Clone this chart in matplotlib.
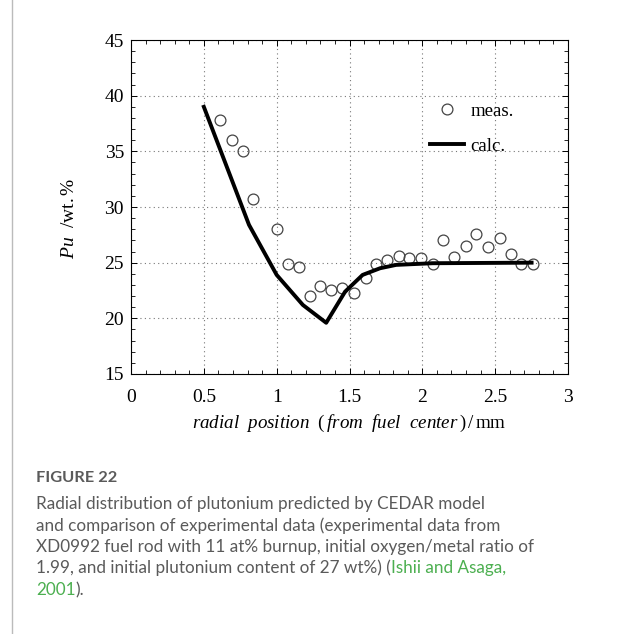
import matplotlib
matplotlib.use("Agg")
import matplotlib.pyplot as plt
from matplotlib.ticker import MultipleLocator

plt.rcParams['font.family'] = 'Liberation Serif'
plt.rcParams['mathtext.fontset'] = 'custom'
plt.rcParams['mathtext.rm'] = 'Liberation Serif'
plt.rcParams['mathtext.it'] = 'Liberation Serif:italic'

# measured Pu content (wt.%) vs radial position (mm)
meas_r = [0.61, 0.69, 0.77, 0.84, 1.00, 1.08, 1.15, 1.23, 1.30, 1.37, 1.45, 1.53,
          1.61, 1.68, 1.76, 1.84, 1.91, 1.99, 2.07, 2.14, 2.22, 2.30, 2.37, 2.45,
          2.53, 2.61, 2.68, 2.76]
meas_pu = [37.8, 36.0, 35.0, 30.7, 28.0, 24.9, 24.6, 22.0, 22.9, 22.5, 22.7, 22.3,
           23.6, 24.9, 25.2, 25.6, 25.4, 25.4, 24.9, 27.0, 25.5, 26.5, 27.6, 26.4,
           27.2, 25.8, 24.9, 24.9]

# CEDAR calculation
calc_r = [0.50, 0.81, 1.00, 1.18, 1.34, 1.47, 1.59, 1.71, 1.82, 2.07, 2.75]
calc_pu = [39.0, 28.4, 23.9, 21.2, 19.6, 22.4, 23.9, 24.5, 24.8, 24.95, 25.0]

fig = plt.figure(figsize=(6.22, 6.34), dpi=100)
ax = fig.add_axes([0.2106, 0.4101, 0.7026, 0.5268])

ax.plot(meas_r, meas_pu, 'o', markersize=7.8, markerfacecolor='none',
        markeredgecolor='#444444', markeredgewidth=0.9, label='meas.')
ax.plot(calc_r, calc_pu, '-', color='black', linewidth=2.8, label='calc.')

ax.set_xlim(0, 3)
ax.set_ylim(15, 45)
ax.xaxis.set_major_locator(MultipleLocator(0.5))
ax.xaxis.set_minor_locator(MultipleLocator(0.1))
ax.yaxis.set_major_locator(MultipleLocator(5))
ax.yaxis.set_minor_locator(MultipleLocator(1))
ax.set_xticks([0, 0.5, 1, 1.5, 2, 2.5, 3])
ax.set_xticklabels(['0', '0.5', '1', '1.5', '2', '2.5', '3'])

ax.tick_params(which='both', direction='in', top=True, right=True, labelsize=14)
ax.tick_params(which='major', length=4, width=0.7)
ax.tick_params(which='minor', length=3, width=0.6)
ax.tick_params(axis='x', which='major', pad=11)
ax.tick_params(axis='y', which='major', pad=5)
ax.grid(True, which='major', linestyle=(0, (1, 3)), color='#777777', linewidth=0.8)
for s in ax.spines.values():
    s.set_linewidth(0.8)

ax.set_xlabel(r'$\mathit{radial\ \ position\ \ (\,from\ \ fuel\ \ center\,)\,/\,}\mathrm{mm}$',
              fontsize=13.7)
ax.xaxis.set_label_coords(0.5, -0.117)
ax.set_ylabel(r'$\mathit{Pu}\ \ \mathrm{/wt.\%}$', fontsize=14)
ax.yaxis.set_label_coords(-0.122, 0.467)

leg = ax.legend(loc='upper left', bbox_to_anchor=(0.684, 0.812), frameon=False,
                fontsize=13.5, handlelength=1.8, handletextpad=0.35,
                labelspacing=0.95, borderpad=0, borderaxespad=0)

# caption block
gray = '#5a5a5a'
green = '#4caf50'
cfont = 'Lato'
csize = 12.3
fig.add_artist(plt.Line2D([12 / 622, 12 / 622], [0, 1], color='#bbbbbb', linewidth=1.0))
fig.text(36 / 622, 1 - 478 / 634, 'FIGURE 22', fontsize=11.8, fontweight='bold',
         color=gray, family=cfont, va='center')
lines = ['Radial distribution of plutonium predicted by CEDAR model',
         'and comparison of experimental data (experimental data from',
         'XD0992 fuel rod with 11 at% burnup, initial oxygen/metal ratio of',
         '1.99, and initial plutonium content of 27 wt%) (']
ys = [504, 526, 547, 568, 590]
for txt, y in zip(lines, ys):
    t = fig.text(36 / 622, 1 - y / 634, txt, fontsize=csize, color=gray,
                 family=cfont, va='center')
plt.annotate('Ishii and Asaga,', xy=(1, 0), xycoords=t, fontsize=csize,
             color=green, family=cfont, va='bottom', ha='left')
t5 = fig.text(36 / 622, 1 - ys[4] / 634, '2001', fontsize=csize, color=green,
              family=cfont, va='center')
plt.annotate(').', xy=(1, 0), xycoords=t5, fontsize=csize, color=gray,
             family=cfont, va='bottom', ha='left')

fig.savefig('out.png', dpi=100)
